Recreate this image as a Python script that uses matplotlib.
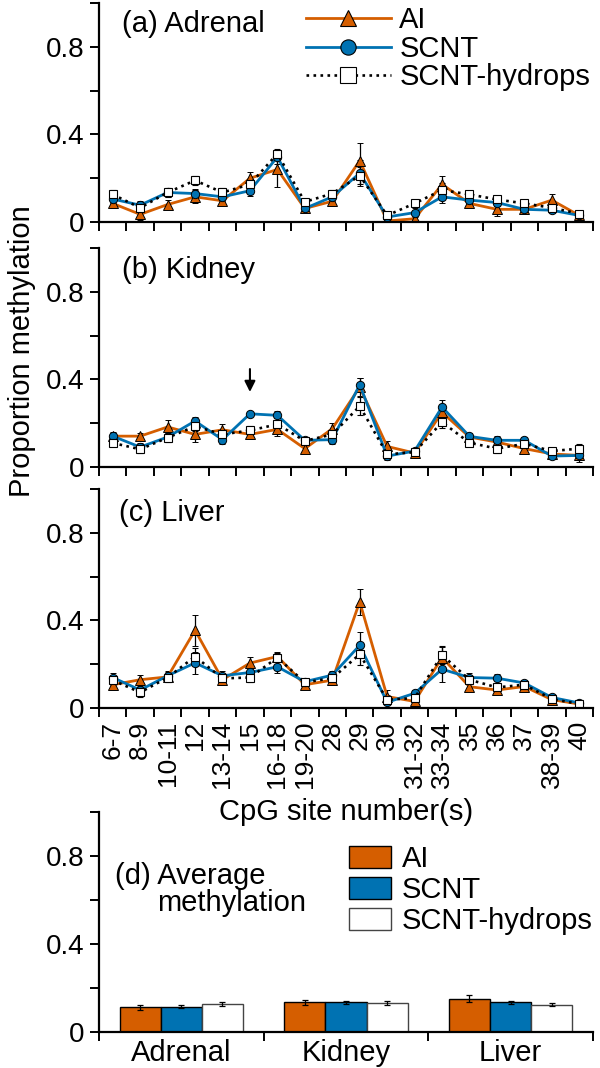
import matplotlib
matplotlib.use('Agg')
import matplotlib.pyplot as plt
import numpy as np
from matplotlib.lines import Line2D
from matplotlib.patches import Patch

plt.rcParams['font.family'] = ['Liberation Sans', 'DejaVu Sans']

# CpG sites on the x axis
sites = ['6-7', '8-9', '10-11', '12', '13-14', '15', '16-18', '19-20', '28', '29',
         '30', '31-32', '33-34', '35', '36', '37', '38-39', '40']
groups = ['AI', 'SCNT', 'SCNT-hydrops']
tissues = ['Adrenal', 'Kidney', 'Liver']

# (a) adrenal
adrenal_ai = [0.085, 0.035, 0.08, 0.115, 0.097, 0.2, 0.24, 0.062, 0.095, 0.28,
              0.005, 0.015, 0.172, 0.085, 0.058, 0.058, 0.1, 0.03]
adrenal_ai_err = [0.02, 0.025, 0.02, 0.03, 0.02, 0.03, 0.08, 0.015, 0.02, 0.08,
                  0.015, 0.02, 0.04, 0.02, 0.03, 0.015, 0.03, 0.01]
adrenal_scnt = [0.105, 0.077, 0.135, 0.13, 0.115, 0.143, 0.297, 0.062, 0.115, 0.223,
                0.023, 0.043, 0.115, 0.1, 0.089, 0.058, 0.054, 0.03]
adrenal_scnt_err = [0.02, 0.02, 0.02, 0.02, 0.02, 0.025, 0.03, 0.015, 0.02, 0.06,
                    0.015, 0.02, 0.03, 0.02, 0.015, 0.015, 0.015, 0.01]
adrenal_hyd = [0.126, 0.065, 0.135, 0.19, 0.135, 0.172, 0.312, 0.092, 0.13, 0.212,
               0.03, 0.085, 0.146, 0.126, 0.103, 0.085, 0.065, 0.038]
adrenal_hyd_err = [0.02, 0.015, 0.02, 0.02, 0.02, 0.02, 0.02, 0.015, 0.015, 0.04,
                   0.01, 0.015, 0.03, 0.015, 0.015, 0.015, 0.015, 0.01]

# (b) kidney
kidney_ai = [0.141, 0.141, 0.183, 0.149, 0.17, 0.149, 0.172, 0.084, 0.175, 0.365,
             0.094, 0.064, 0.25, 0.137, 0.114, 0.084, 0.06, 0.053]
kidney_ai_err = [0.02, 0.015, 0.03, 0.035, 0.025, 0.02, 0.03, 0.02, 0.025, 0.04,
                 0.025, 0.01, 0.03, 0.02, 0.02, 0.02, 0.02, 0.02]
kidney_scnt = [0.141, 0.091, 0.137, 0.21, 0.125, 0.243, 0.236, 0.122, 0.125, 0.376,
               0.05, 0.073, 0.274, 0.14, 0.122, 0.122, 0.05, 0.053]
kidney_scnt_err = [0.015, 0.02, 0.02, 0.02, 0.02, 0.01, 0.02, 0.015, 0.02, 0.03,
                   0.02, 0.01, 0.03, 0.015, 0.02, 0.015, 0.015, 0.03]
kidney_hyd = [0.11, 0.081, 0.134, 0.186, 0.149, 0.167, 0.195, 0.119, 0.149, 0.278,
              0.058, 0.068, 0.205, 0.111, 0.084, 0.106, 0.073, 0.084]
kidney_hyd_err = [0.015, 0.015, 0.02, 0.02, 0.02, 0.02, 0.03, 0.015, 0.02, 0.04,
                  0.015, 0.01, 0.025, 0.015, 0.02, 0.015, 0.015, 0.02]

# (c) liver
liver_ai = [0.106, 0.129, 0.142, 0.355, 0.129, 0.205, 0.235, 0.106, 0.127, 0.485,
            0.052, 0.03, 0.23, 0.097, 0.082, 0.098, 0.038, 0.018]
liver_ai_err = [0.025, 0.02, 0.02, 0.07, 0.025, 0.03, 0.02, 0.02, 0.02, 0.06,
                0.03, 0.025, 0.05, 0.02, 0.02, 0.015, 0.015, 0.005]
liver_scnt = [0.139, 0.082, 0.147, 0.206, 0.147, 0.162, 0.188, 0.12, 0.15, 0.286,
              0.026, 0.067, 0.177, 0.139, 0.136, 0.114, 0.048, 0.023]
liver_scnt_err = [0.02, 0.02, 0.02, 0.05, 0.02, 0.02, 0.03, 0.015, 0.02, 0.06,
                  0.02, 0.015, 0.06, 0.02, 0.02, 0.015, 0.01, 0.01]
liver_hyd = [0.127, 0.071, 0.139, 0.235, 0.135, 0.139, 0.23, 0.117, 0.136, 0.245,
             0.038, 0.045, 0.242, 0.129, 0.094, 0.106, 0.041, 0.018]
liver_hyd_err = [0.02, 0.02, 0.02, 0.04, 0.02, 0.02, 0.02, 0.015, 0.02, 0.05,
                 0.02, 0.015, 0.04, 0.02, 0.02, 0.015, 0.01, 0.005]

# (d) average methylation per tissue
avg_ai = [0.112, 0.135, 0.151]
avg_ai_err = [0.012, 0.01, 0.015]
avg_scnt = [0.115, 0.135, 0.135]
avg_scnt_err = [0.006, 0.007, 0.007]
avg_hyd = [0.127, 0.132, 0.125]
avg_hyd_err = [0.008, 0.007, 0.008]

orange = '#D55E00'
blue = '#0072B2'
TXT = 21
TICK = 20

fig = plt.figure(figsize=(6, 10.68), dpi=100)
left, width = 0.165, 0.8233
ax_a = fig.add_axes([left, 0.7921, width, 0.2051])
ax_b = fig.add_axes([left, 0.5627, width, 0.2051])
ax_c = fig.add_axes([left, 0.3371, width, 0.2051])
ax_d = fig.add_axes([left, 0.0337, width, 0.2060])


def style(ax, nx):
    for s in ['top', 'right']:
        ax.spines[s].set_visible(False)
    for s in ['left', 'bottom']:
        ax.spines[s].set_linewidth(1.6)
    ax.set_ylim(0, 1)
    ax.set_xlim(0, nx)
    ax.set_yticks(np.arange(0, 1.01, 0.2))
    ax.set_yticklabels(['0', '', '0.4', '', '0.8', ''])
    ax.set_xticks(np.arange(nx + 1))
    ax.set_xticklabels([])
    ax.tick_params(axis='both', which='major', direction='out', length=6.5, width=1.4,
                   labelsize=TICK)
    ax.tick_params(axis='y', pad=4)


def profile(ax, ai, ai_err, scnt, scnt_err, hyd, hyd_err):
    x = np.arange(len(sites)) + 0.5
    eb = dict(ecolor='black', elinewidth=0.9, capsize=2.5, capthick=0.9)
    ax.errorbar(x, ai, yerr=ai_err, color=orange, lw=2.0, marker='^', ms=6.5,
                mfc=orange, mec='black', mew=0.7, **eb)
    ax.errorbar(x, scnt, yerr=scnt_err, color=blue, lw=2.0, marker='o', ms=6,
                mfc=blue, mec='black', mew=0.7, **eb)
    ax.errorbar(x, hyd, yerr=hyd_err, color='black', lw=1.9, ls=':', marker='s', ms=6,
                mfc='white', mec='black', mew=0.8, **eb)
    style(ax, len(sites))


profile(ax_a, adrenal_ai, adrenal_ai_err, adrenal_scnt, adrenal_scnt_err,
        adrenal_hyd, adrenal_hyd_err)
profile(ax_b, kidney_ai, kidney_ai_err, kidney_scnt, kidney_scnt_err,
        kidney_hyd, kidney_hyd_err)
profile(ax_c, liver_ai, liver_ai_err, liver_scnt, liver_scnt_err,
        liver_hyd, liver_hyd_err)

# site labels only on the liver panel
ax_c.set_xticks(np.arange(len(sites)) + 0.5, minor=True)
ax_c.set_xticklabels(sites, minor=True, rotation=90, va='top', ha='center')
ax_c.tick_params(axis='x', which='minor', length=0, labelsize=19, pad=9)

ax_a.text(0.047, 0.905, '(a) Adrenal', transform=ax_a.transAxes, fontsize=TXT, va='center')
ax_b.text(0.047, 0.90, '(b) Kidney', transform=ax_b.transAxes, fontsize=TXT, va='center')
ax_c.text(0.040, 0.89, '(c) Liver', transform=ax_c.transAxes, fontsize=TXT, va='center')

# arrow at site 15 in kidney
ax_b.annotate('', xy=(5.5, 0.33), xytext=(5.5, 0.46),
              arrowprops=dict(arrowstyle='-|>', color='black', lw=1.5, mutation_scale=16))

handles = [
    Line2D([], [], color=orange, lw=2.0, marker='^', ms=12, mfc=orange, mec='black', mew=0.8),
    Line2D([], [], color=blue, lw=2.0, marker='o', ms=11, mfc=blue, mec='black', mew=0.8),
    Line2D([], [], color='black', lw=1.9, ls=':', marker='s', ms=11, mfc='white', mec='black', mew=0.8),
]
ax_a.legend(handles, groups, loc='upper left', bbox_to_anchor=(0.419, 0.985),
            bbox_transform=ax_a.transAxes, frameon=False, fontsize=TXT,
            handlelength=2.9, handletextpad=0.3, labelspacing=0.02,
            borderpad=0, borderaxespad=0)

# (d) bars
xg = np.arange(len(tissues)) + 0.5
bw = 0.25
ekw = dict(elinewidth=0.9, capsize=2.5, capthick=0.9)
ax_d.bar(xg - bw, avg_ai, bw, color=orange, edgecolor='black', lw=1, yerr=avg_ai_err,
         error_kw=ekw)
ax_d.bar(xg, avg_scnt, bw, color=blue, edgecolor='black', lw=1, yerr=avg_scnt_err,
         error_kw=ekw)
ax_d.bar(xg + bw, avg_hyd, bw, color='white', edgecolor='#444444', lw=1, yerr=avg_hyd_err,
         error_kw=ekw)
style(ax_d, len(tissues))
ax_d.set_xticks(xg, minor=True)
ax_d.set_xticklabels(tissues, minor=True)
ax_d.tick_params(axis='x', which='minor', length=0, labelsize=TXT, pad=5)

ax_d.text(0.032, 0.71, '(d) Average', transform=ax_d.transAxes, fontsize=TXT, va='center')
ax_d.text(0.117, 0.585, 'methylation', transform=ax_d.transAxes, fontsize=TXT, va='center')

bar_handles = [Patch(facecolor=orange, edgecolor='black'),
               Patch(facecolor=blue, edgecolor='black'),
               Patch(facecolor='white', edgecolor='#444444')]
ax_d.legend(bar_handles, groups, loc='upper left', bbox_to_anchor=(0.506, 0.85),
            bbox_transform=ax_d.transAxes, frameon=False, fontsize=TXT,
            handlelength=1.45, handleheight=0.78, handletextpad=0.35, labelspacing=0.1,
            borderpad=0, borderaxespad=0)

fig.text(0.036, 1 - 351 / 1068, 'Proportion methylation', rotation=90, fontsize=TXT,
         ha='center', va='center')
fig.text(346 / 600, 1 - 812 / 1068, 'CpG site number(s)', fontsize=TXT,
         ha='center', va='center')

fig.savefig('out.png', dpi=100)
